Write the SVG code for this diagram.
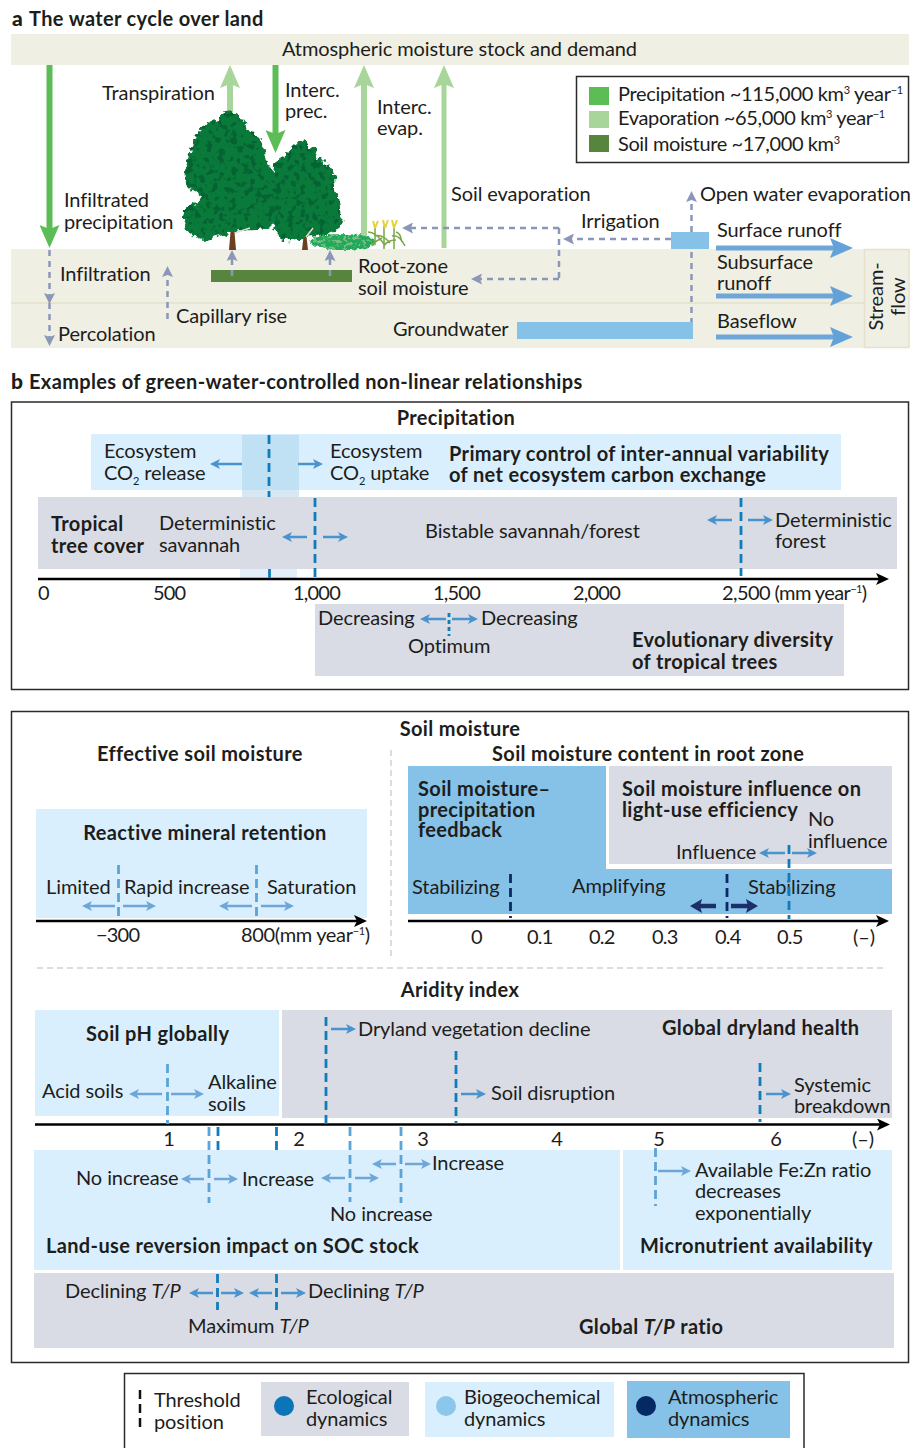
<svg xmlns="http://www.w3.org/2000/svg" width="923" height="1448" viewBox="0 0 923 1448">
<style>
text{font-family:"Lato","Noto Sans","Liberation Sans",sans-serif;font-size:20px;fill:#1d1d1b;letter-spacing:-.09px}
.b{font-weight:700;letter-spacing:.35px;transform:translateY(1px)}
.k{font-weight:900;font-size:21px;letter-spacing:0}
.n{letter-spacing:-.8px}
.i{font-style:italic}
.sup{font-size:11px}
.beige{fill:#f0efe4}.sky{fill:#d9effd}.grey{fill:#d9dce5}.mid{fill:#86c2e8}
.frame{fill:none;stroke:#2a2a2a;stroke-width:1.5}
.axis{stroke:#000;stroke-width:2.5;fill:none;marker-end:url(#ax)}
.thE{stroke:#0f7cbb;stroke-width:2.8;stroke-dasharray:9 5;fill:none}
.thB{stroke:#5ba4d6;stroke-width:2.8;stroke-dasharray:9 5;fill:none}
.thA{stroke:#0b2a66;stroke-width:2.8;stroke-dasharray:9 5;fill:none}
.sep{stroke:#b9b9b9;stroke-width:1;stroke-dasharray:6 4;fill:none}
.aE{stroke:#4a93cc;stroke-width:2.5;fill:none;marker-end:url(#hE)}
.aB{stroke:#6ea6d8;stroke-width:2.5;fill:none;marker-end:url(#hB)}
.aA{stroke:#1c2f6b;stroke-width:4.5;fill:none;marker-end:url(#hA)}
.gd{stroke:#8a97b8;stroke-width:2.5;stroke-dasharray:6 5;fill:none}
.gh{marker-end:url(#hG)}
.pr{stroke:#5cbd57;stroke-width:6;fill:none;marker-end:url(#hP)}
.ev{stroke:#a8d69a;stroke-width:6;fill:none;marker-end:url(#hV)}
.fl{stroke:#6ea6d8;stroke-width:5;fill:none;marker-end:url(#hF)}
</style>
<defs>
<marker id="ax" markerUnits="userSpaceOnUse" markerWidth="13" markerHeight="12" refX="6" refY="6" orient="auto"><path d="M0,0L13,6L0,12L3,6Z" fill="#000"/></marker>
<marker id="hE" markerUnits="userSpaceOnUse" markerWidth="10" markerHeight="10" refX="6" refY="5" orient="auto"><path d="M0,0L10,5L0,10L2.5,5Z" fill="#4a93cc"/></marker>
<marker id="hB" markerUnits="userSpaceOnUse" markerWidth="10" markerHeight="10" refX="6" refY="5" orient="auto"><path d="M0,0L10,5L0,10L2.5,5Z" fill="#6ea6d8"/></marker>
<marker id="hA" markerUnits="userSpaceOnUse" markerWidth="12" markerHeight="14" refX="5" refY="7" orient="auto"><path d="M0,0L12,7L0,14L2,7Z" fill="#1c2f6b"/></marker>
<marker id="hG" markerUnits="userSpaceOnUse" markerWidth="11" markerHeight="11" refX="5" refY="5.5" orient="auto"><path d="M0,0L11,5.5L0,11L2,5.5Z" fill="#8a97b8"/></marker>
<marker id="hP" markerUnits="userSpaceOnUse" markerWidth="23" markerHeight="20" refX="10" refY="10" orient="auto"><path d="M0,0L23,10L0,20L4,10Z" fill="#5cbd57"/></marker>
<marker id="hV" markerUnits="userSpaceOnUse" markerWidth="23" markerHeight="20" refX="10" refY="10" orient="auto"><path d="M0,0L23,10L0,20L4,10Z" fill="#a8d69a"/></marker>
<marker id="hF" markerUnits="userSpaceOnUse" markerWidth="23" markerHeight="20" refX="10" refY="10" orient="auto"><path d="M0,0L23,10L0,20L4,10Z" fill="#62a2d8"/></marker>
<filter id="leaf" x="-10%" y="-10%" width="120%" height="120%" color-interpolation-filters="sRGB">
<feTurbulence type="fractalNoise" baseFrequency="0.16" numOctaves="2" seed="4" result="n"/>
<feDisplacementMap in="SourceGraphic" in2="n" scale="11" xChannelSelector="R" yChannelSelector="G" result="d"/>
<feColorMatrix in="n" type="matrix" values="0 0 0 0 0.02  0 0 0 0 0.39  0 0 0 0 0.2  9 0 0 0 -4.7" result="m"/>
<feComposite in="m" in2="d" operator="in" result="mm"/>
<feMerge><feMergeNode in="d"/><feMergeNode in="mm"/></feMerge>
</filter>
<filter id="bush" x="-10%" y="-20%" width="120%" height="140%" color-interpolation-filters="sRGB">
<feTurbulence type="fractalNoise" baseFrequency="0.3" numOctaves="2" seed="7" result="n"/>
<feDisplacementMap in="SourceGraphic" in2="n" scale="5" xChannelSelector="R" yChannelSelector="G" result="d"/>
<feColorMatrix in="n" type="matrix" values="0 0 0 0 0.45  0 0 0 0 0.75  0 0 0 0 0.5  9 0 0 0 -4.6" result="m"/>
<feComposite in="m" in2="d" operator="in" result="mm"/>
<feMerge><feMergeNode in="d"/><feMergeNode in="mm"/></feMerge>
</filter>
</defs>
<rect width="923" height="1448" fill="#fff"/>

<g id="panel-a">
<text x="12" y="25" class="b k">a</text><text x="29" y="25" class="b">The water cycle over land</text>
<g id="atmosphere"><rect class="beige" x="11" y="34" width="898" height="31"/><text x="282" y="56">Atmospheric moisture stock and demand</text></g>
<g id="soil"><rect class="beige" x="11" y="249" width="898" height="99"/><path d="M11,303H864" stroke="#e6e0cc" stroke-width="1.5"/></g>
<g id="streamflow"><rect x="864.5" y="249.5" width="44.5" height="98" fill="#f0efe4" stroke="#e6e0cc" stroke-width="1.5"/>
<text transform="translate(883 296.5) rotate(-90)" text-anchor="middle">Stream-</text><text transform="translate(905 296.5) rotate(-90)" text-anchor="middle">flow</text></g>
<g id="legend-a"><rect x="576.5" y="76.5" width="332" height="86" class="frame"/>
<rect x="589" y="87" width="20" height="18" fill="#5cbd57"/><rect x="589" y="111" width="20" height="17" fill="#a8d69a"/><rect x="589" y="135" width="20" height="17" fill="#57853d"/>
<text x="618" y="101" textLength="285">Precipitation ~115,000 km<tspan class="sup" dy="-7">3</tspan><tspan dy="7"> year</tspan><tspan class="sup" dy="-7">−1</tspan></text>
<text x="618" y="125" textLength="267">Evaporation ~65,000 km<tspan class="sup" dy="-7">3</tspan><tspan dy="7"> year</tspan><tspan class="sup" dy="-7">−1</tspan></text>
<text x="618" y="151" textLength="222">Soil moisture ~17,000 km<tspan class="sup" dy="-7">3</tspan></text></g>
<g id="root-zone-bar"><rect x="211" y="270" width="141" height="12" fill="#57853d"/></g>
<g id="groundwater-store"><rect class="mid" x="517" y="322" width="176" height="17"/></g>
<g id="open-water"><rect class="mid" x="671" y="232" width="38" height="17"/></g>

<g id="connectors-a">
<path class="pr" d="M49.5,65V235"/>
<path class="ev" d="M230,118V78"/>
<path class="ev" d="M364,236V78"/>
<path class="ev" d="M444,248V78" style="stroke-width:5"/>
<path class="fl" d="M716,248H840"/><path class="fl" d="M716,296H840"/><path class="fl" d="M716,337H840"/>
<path class="gd gh" d="M49.5,250V298"/><path class="gd gh" d="M49.5,303V340"/>
<path class="gd gh" d="M167.5,319V272"/>
<path class="gd gh" d="M232,276V256"/><path class="gd gh" d="M330,276V256"/>
<path class="gd gh" d="M671,239H569"/>
<path class="gd" d="M559,228V279"/>
<path class="gd gh" d="M559,228H408"/><path class="gd gh" d="M559,279H477"/>
<path class="gd gh" d="M691.5,232V197"/><path class="gd" d="M691.5,252V322"/>
</g>

<g id="vegetation">
<g fill="#6b3f1f"><path d="M229,250L231,226H234L236,250Z"/><path d="M302,250L304,232H306L308,250Z"/></g>
<path filter="url(#leaf)" fill="#0a7a3b" d="M228,108C240,114 245,124 250,132C260,132 264,146 265,160C272,166 280,190 280,210C278,225 265,232 240,230C220,236 200,244 190,234C180,225 182,212 188,208C192,204 198,202 202,198C198,190 184,190 184,178C182,168 188,158 192,148C192,134 208,122 218,120Z"/>
<path filter="url(#leaf)" fill="#0a7a3b" d="M302,137C312,143 316,156 322,162C332,162 336,176 336,190C342,202 345,216 339,226C330,238 300,237 285,241C275,241 272,225 276,210C272,195 271,170 276,160C288,154 294,146 302,137Z"/>
<path d="M235,233L250,228M306,237L313,228" stroke="#e4ddd4" stroke-width="1.5"/>
<ellipse cx="343" cy="242" rx="33" ry="8" fill="#22a85a" filter="url(#bush)"/>
<g stroke="#7aa648" stroke-width="1.5" fill="none"><path d="M384,249V226M394,249V226M375,245V226"/><path d="M368,232C375,232 380,238 384,244M392,236C398,234 402,240 405,246M382,238C378,240 372,244 372,246M396,240C390,240 386,242 384,246M375,236C380,234 386,238 390,243M396,232C402,234 400,238 402,242"/></g>
<g stroke="#e6d33c" stroke-width="2" fill="none"><path d="M375,228L373,221M375,228L378,221M385,228L383,220M385,228L388,220M394,228L392,220M394,228L397,220"/></g>
</g>
<g id="connectors-a-over"><path class="pr" d="M275.5,65V140"/></g>
<g id="labels-a">
<text x="102" y="100">Transpiration</text>
<text x="285" y="97">Interc.</text><text x="285" y="118">prec.</text>
<text x="377" y="114">Interc.</text><text x="377" y="135">evap.</text>
<text x="64" y="207">Infiltrated</text><text x="64" y="229">precipitation</text>
<text x="451" y="201">Soil evaporation</text>
<text x="700" y="201">Open water evaporation</text>
<text x="581" y="228">Irrigation</text>
<text x="717" y="237">Surface runoff</text>
<text x="717" y="269">Subsurface</text><text x="717" y="290">runoff</text>
<text x="717" y="328">Baseflow</text>
<text x="60" y="281">Infiltration</text>
<text x="358" y="273">Root-zone</text><text x="358" y="295">soil moisture</text>
<text x="176" y="323">Capillary rise</text>
<text x="58" y="341">Percolation</text>
<text x="393" y="336">Groundwater</text>
</g>
</g>

<g id="panel-b">
<text x="11" y="387.5" class="b k">b</text><text x="29" y="387.5" class="b">Examples of green-water-controlled non-linear relationships</text>
<g id="precipitation-box">
<rect class="frame" x="11.5" y="402" width="897" height="287.5"/>
<text x="456" y="424" class="b" text-anchor="middle">Precipitation</text>
<g id="nee"><rect class="sky" x="91" y="434" width="750" height="56"/>
<rect x="242" y="435" width="57" height="55" fill="#c0e0f3"/>
<rect x="242" y="490" width="57" height="7" fill="#d7e8f5"/>
<text x="104" y="458">Ecosystem</text><text x="104" y="480">CO<tspan class="sup" dy="5">2</tspan><tspan dy="-5"> release</tspan></text>
<text x="330" y="458">Ecosystem</text><text x="330" y="480">CO<tspan class="sup" dy="5">2</tspan><tspan dy="-5"> uptake</tspan></text>
<text x="449" y="460" class="b">Primary control of inter-annual variability</text><text x="449" y="481" class="b">of net ecosystem carbon exchange</text></g>
<g id="tree-cover"><rect class="grey" x="38" y="497" width="859" height="72"/>
<rect x="240" y="569" width="57" height="10" fill="#e3effa"/>
<text x="51" y="530" class="b">Tropical</text><text x="51" y="552" class="b">tree cover</text>
<text x="159" y="530">Deterministic</text><text x="159" y="551.5">savannah</text>
<text x="425" y="538">Bistable savannah/forest</text>
<text x="775" y="527">Deterministic</text><text x="775" y="548">forest</text></g>
<g id="axis-precip"><path class="axis" d="M38,579H882"/>
<text x="38" y="600" class="n">0</text><text x="153" y="600" class="n">500</text><text x="293" y="600" class="n">1,000</text><text x="433" y="600" class="n">1,500</text><text x="573" y="600" class="n">2,000</text><text x="722" y="600" textLength="145">2,500 (mm year<tspan class="sup" dy="-7">−1</tspan><tspan dy="7">)</tspan></text></g>
<g id="diversity"><rect class="grey" x="315" y="604" width="529" height="72"/>
<text x="318" y="625">Decreasing</text><text x="481" y="625">Decreasing</text><text x="408" y="653">Optimum</text>
<text x="632" y="646" class="b">Evolutionary diversity</text><text x="632" y="668" class="b">of tropical trees</text></g>
<g id="connectors-precip">
<path class="thE" d="M269,435V497"/><path class="thE" d="M269.5,569V579"/><path class="thE" d="M315,498V578"/><path class="thE" d="M741,498V576"/><path class="thE" d="M449,613V636" style="stroke-dasharray:4 3"/>
<path class="aE" d="M242,464H214"/><path class="aE" d="M298,464H319"/>
<path class="aE" d="M307,537H286"/><path class="aE" d="M323,537H344"/>
<path class="aE" d="M732,520H711"/><path class="aE" d="M748,520H769"/>
<path class="aE" d="M446,619H424"/><path class="aE" d="M452,619H474"/>
</g>
</g>

<g id="soil-box">
<rect class="frame" x="11.5" y="711.5" width="897" height="651"/>
<text x="460" y="735" class="b" text-anchor="middle">Soil moisture</text>
<text x="97" y="760" class="b">Effective soil moisture</text>
<text x="492" y="760" class="b">Soil moisture content in root zone</text>
<path class="sep" d="M391,750V958"/><path class="sep" d="M37,968H887"/>
<g id="mineral"><rect class="sky" x="36" y="809" width="331" height="109"/>
<text x="205" y="839" class="b" text-anchor="middle">Reactive mineral retention</text>
<text x="46" y="894">Limited</text><text x="124" y="894">Rapid increase</text><text x="267" y="894">Saturation</text></g>
<g id="axis-esm"><path class="axis" d="M36,921H360"/><text x="96" y="942" class="n">−300</text><text x="241" y="942" textLength="129">800(mm year<tspan class="sup" dy="-7">−1</tspan><tspan dy="7">)</tspan></text></g>
<g id="feedback"><path class="mid" d="M408,766H606V869H892V914H408Z"/>
<text x="418" y="795" class="b">Soil moisture–</text><text x="418" y="816" class="b">precipitation</text><text x="418" y="836" class="b">feedback</text>
<text x="412" y="894">Stabilizing</text><text x="572" y="893">Amplifying</text><text x="748" y="894">Stabilizing</text></g>
<g id="lue"><rect class="grey" x="609" y="766" width="283" height="98"/>
<text x="622" y="795" class="b">Soil moisture influence on</text><text x="622" y="816" class="b">light-use efficiency</text>
<text x="808" y="826">No</text><text x="808" y="848">influence</text><text x="676" y="859">Influence</text></g>
<g id="axis-sm"><path class="axis" d="M408,921H882"/>
<text x="471" y="944" class="n">0</text><text x="527" y="944" class="n">0.1</text><text x="589" y="944" class="n">0.2</text><text x="652" y="944" class="n">0.3</text><text x="715" y="944" class="n">0.4</text><text x="777" y="944" class="n">0.5</text><text x="853" y="944">(–)</text></g>
<g id="connectors-soil">
<path class="thB" d="M118.5,865V921"/><path class="thB" d="M256.5,865V921"/>
<path class="aB" d="M115,906H86"/><path class="aB" d="M123,906H152"/><path class="aB" d="M252,906H223"/><path class="aB" d="M261,906H290"/>
<path class="thA" d="M510.5,874V918"/><path class="thA" d="M727,874V918"/>
<path class="aA" d="M716,906H697"/><path class="aA" d="M731,906H751"/>
<path class="thE" d="M789,845V919"/>
<path class="aE" d="M785,853H763"/><path class="aE" d="M792,853H813"/>
</g>

<text x="460" y="996" class="b" text-anchor="middle">Aridity index</text>
<g id="ph"><rect class="sky" x="35" y="1010" width="244" height="106"/>
<text x="86" y="1040" class="b">Soil pH globally</text><text x="42" y="1098">Acid soils</text><text x="208" y="1089">Alkaline</text><text x="208" y="1111">soils</text></g>
<g id="dryland"><rect class="grey" x="282" y="1010" width="610" height="108"/>
<text x="662" y="1034" class="b">Global dryland health</text>
<text x="358" y="1036">Dryland vegetation decline</text><text x="491" y="1100">Soil disruption</text><text x="794" y="1092">Systemic</text><text x="794" y="1113">breakdown</text></g>
<g id="axis-ai"><path class="axis" d="M35,1124.5H883"/>
<g text-anchor="middle"><text x="169" y="1146">1</text><text x="299" y="1146">2</text><text x="423" y="1146">3</text><text x="557" y="1146">4</text><text x="659" y="1146">5</text><text x="776" y="1146">6</text><text x="863" y="1146">(–)</text></g></g>
<g id="land-use"><rect class="sky" x="34" y="1150" width="586" height="120"/>
<text x="76" y="1185">No increase</text><text x="242" y="1186">Increase</text><text x="432" y="1170">Increase</text><text x="330" y="1221">No increase</text>
<text x="46" y="1252" class="b">Land-use reversion impact on SOC stock</text></g>
<g id="micronutrient"><rect class="sky" x="623" y="1150" width="269" height="120"/>
<text x="695" y="1177">Available Fe:Zn ratio</text><text x="695" y="1198">decreases</text><text x="695" y="1220">exponentially</text>
<text x="640" y="1252" class="b">Micronutrient availability</text></g>
<g id="tp"><rect class="grey" x="34" y="1273" width="860" height="75"/>
<text x="65" y="1298">Declining <tspan class="i">T/P</tspan></text><text x="308" y="1298">Declining <tspan class="i">T/P</tspan></text><text x="188" y="1333">Maximum <tspan class="i">T/P</tspan></text>
<text x="579" y="1333" class="b">Global <tspan class="i">T/P</tspan> ratio</text></g>
<g id="connectors-aridity">
<path class="thB" d="M167.5,1064V1124"/><path class="aB" d="M162,1094H133"/><path class="aB" d="M171,1094H200"/>
<path class="thE" d="M326,1017V1124"/><path class="aE" d="M331,1029H352"/>
<path class="thE" d="M456,1051V1124"/><path class="aE" d="M461,1094H482"/>
<path class="thE" d="M760,1063V1122"/><path class="aE" d="M766,1094H787"/>
<path class="thB" d="M209,1127V1203"/><path class="thE" d="M218,1127V1150"/><path class="thE" d="M276.5,1127V1150"/><path class="thB" d="M350,1127V1202"/><path class="thB" d="M401,1127V1203"/>
<path class="aB" d="M204,1179H185"/><path class="aB" d="M214,1179H234"/>
<path class="aB" d="M345,1178H325"/><path class="aB" d="M355,1178H375"/>
<path class="aB" d="M396,1164H376"/><path class="aB" d="M405,1164H427"/>
<path class="thB" d="M655.5,1148V1206"/><path class="aB" d="M658,1171H687"/>
<path class="thE" d="M217.5,1274V1310"/><path class="thE" d="M276.5,1274V1310"/>
<path class="aE" d="M213,1293H193"/><path class="aE" d="M221,1293H240"/><path class="aE" d="M272,1293H253"/><path class="aE" d="M281,1293H302"/>
</g>
</g>
</g>

<g id="legend-b">
<path d="M124.5,1448V1373.5H804V1448" class="frame"/>
<path d="M140,1390V1432" stroke="#111" stroke-width="2.5" stroke-dasharray="9 5"/>
<text x="154" y="1407">Threshold</text><text x="154" y="1429">position</text>
<g id="legend-ecological"><rect class="grey" x="261" y="1382" width="148" height="54"/><circle cx="284" cy="1406" r="10" fill="#0b75b8"/><text x="306" y="1404">Ecological</text><text x="306" y="1426">dynamics</text></g>
<g id="legend-biogeochemical"><rect class="sky" x="425" y="1382" width="189" height="55"/><circle cx="446" cy="1406" r="10" fill="#8cc6ea"/><text x="464" y="1404">Biogeochemical</text><text x="464" y="1426">dynamics</text></g>
<g id="legend-atmospheric"><rect class="mid" x="627" y="1381" width="163" height="57"/><circle cx="646" cy="1406" r="10" fill="#042a63"/><text x="668" y="1404">Atmospheric</text><text x="668" y="1426">dynamics</text></g>
</g>
</svg>
